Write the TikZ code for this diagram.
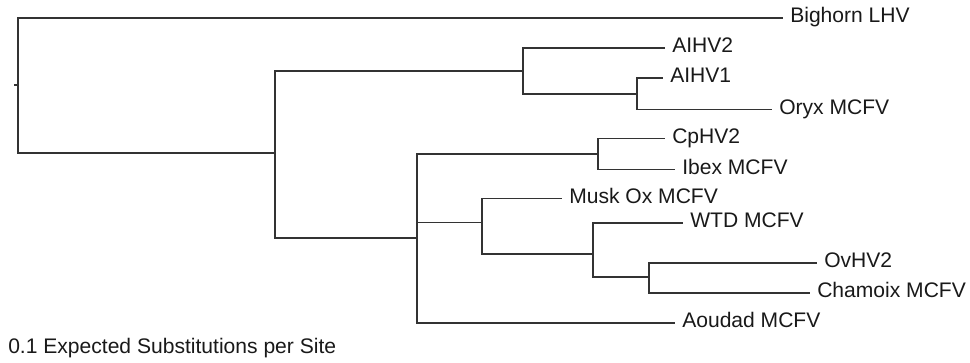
\documentclass[tikz,border=0pt]{standalone}
\usepackage{fontspec}
\setmainfont{Liberation Sans}
\begin{document}
\begin{tikzpicture}[x=0.75pt,y=-0.75pt,
  branch/.style={line width=1pt,color=black!80},
  leaf/.style={anchor=west,inner xsep=5.25pt,inner ysep=0pt,text height=0.716em,text depth=0pt,font=\fontsize{15.8}{18}\selectfont,text=black!90}]
\useasboundingbox (0,0) rectangle (970,362);
% internal nodes
\coordinate (root) at (18,85);
\coordinate (stub) at (14,85);
\coordinate (n2) at (275,153);
\coordinate (n3) at (523,71);
\coordinate (n4) at (637,94);
\coordinate (n5) at (417,238);
\coordinate (n6) at (598,154);
\coordinate (n7) at (482,222.7);
\coordinate (n8) at (593,254);
\coordinate (n9) at (649,277);
% leaves
\node[leaf] (bighorn) at (783,18) {Bighorn LHV};
\node[leaf] (aihv2) at (665,48) {AIHV2};
\node[leaf] (aihv1) at (663,78) {AIHV1};
\node[leaf] (oryx) at (772,109.5) {Oryx MCFV};
\node[leaf] (cphv2) at (665,138.5) {CpHV2};
\node[leaf] (ibex) at (675,169.5) {Ibex MCFV};
\node[leaf] (musk) at (562,198.5) {Musk Ox MCFV};
\node[leaf] (wtd) at (683,223) {WTD MCFV};
\node[leaf] (ovhv2) at (817,263) {OvHV2};
\node[leaf] (chamoix) at (810,293) {Chamoix MCFV};
\node[leaf] (aoudad) at (675,323) {Aoudad MCFV};
\node[leaf,inner xsep=0pt] (scale) at (8,348.5) {0.1 Expected Substitutions per Site};
% branches
\draw[branch] (stub) -- (root);
\draw[branch] (root) |- (bighorn.west);
\draw[branch] (root) |- (n2);
\draw[branch] (n2) |- (n3);
\draw[branch] (n2) |- (n5);
\draw[branch] (n3) |- (aihv2.west);
\draw[branch] (n3) |- (n4);
\draw[branch] (n4) |- (aihv1.west);
\draw[branch] (n4) |- (oryx.west);
\draw[branch] (n5) |- (n6);
\draw[branch] (n5) |- (n7);
\draw[branch] (n5) |- (aoudad.west);
\draw[branch] (n6) |- (cphv2.west);
\draw[branch] (n6) |- (ibex.west);
\draw[branch] (n7) |- (musk.west);
\draw[branch] (n7) |- (n8);
\draw[branch] (n8) |- (wtd.west);
\draw[branch] (n8) |- (n9);
\draw[branch] (n9) |- (ovhv2.west);
\draw[branch] (n9) |- (chamoix.west);
\end{tikzpicture}
\end{document}
